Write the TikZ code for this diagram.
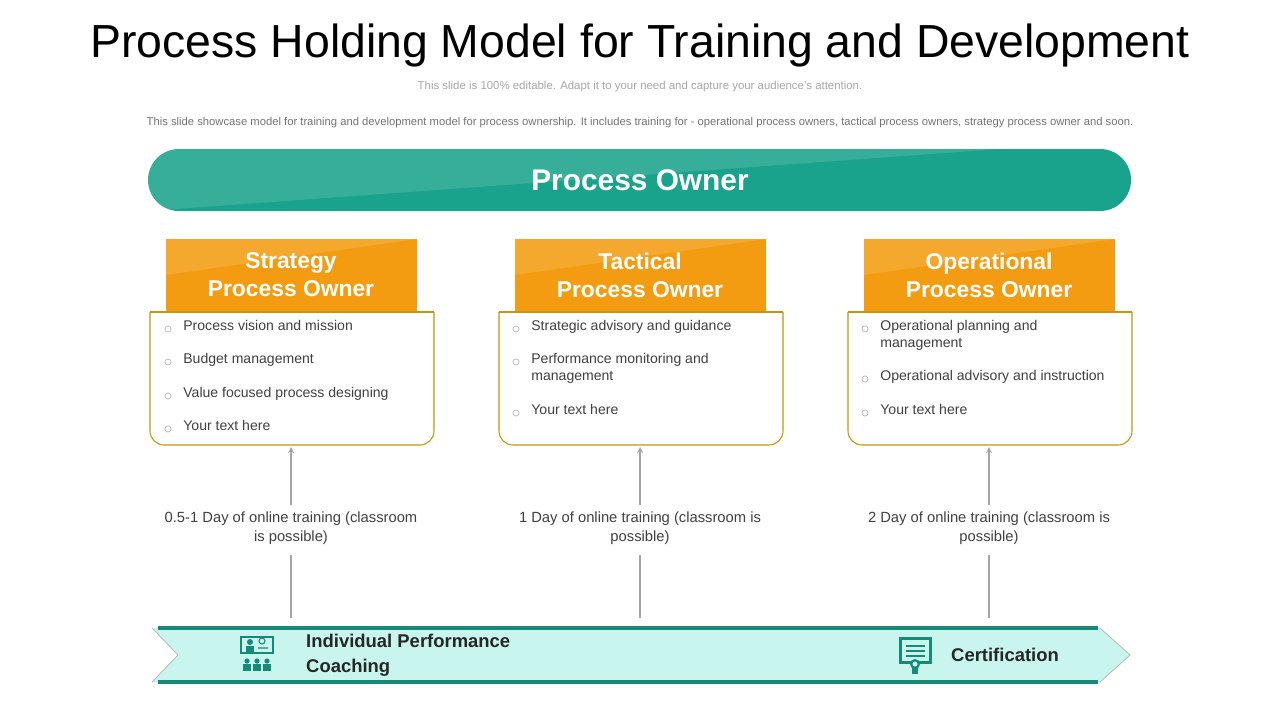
\documentclass[tikz,border=0pt]{standalone}
\usepackage{fontspec}
\setmainfont{Liberation Sans}
\usetikzlibrary{positioning}
\definecolor{teal}{HTML}{1AA38C}
\definecolor{orng}{HTML}{F39C12}
\definecolor{mint}{HTML}{C8F5EE}
\definecolor{txtgray}{HTML}{404040}
\tikzset{
  head/.style={fill=orng, minimum width=251*0.02cm, minimum height=72*0.02cm, text=white, font=\bfseries\fontsize{13}{16}\selectfont, align=center, inner sep=0pt},
  item/.style={anchor=north west, text=txtgray, font=\fontsize{8}{9.5}\selectfont, align=left, inner sep=0pt},
  bul/.style={draw=gray!70, circle, inner sep=0pt, minimum size=3.5pt, line width=0.3pt},
  train/.style={text=txtgray, font=\fontsize{8.4}{10.5}\selectfont, align=center},
  link/.style={draw=gray!70, line width=0.6pt},
}
\begin{document}
\begin{tikzpicture}[x=0.02cm, y=-0.02cm]
\useasboundingbox (0,0) rectangle (1280,720);
% titles
\node (title) at (640,46) {\fontsize{26.4}{30}\selectfont Process Holding Model for Training and Development};
\node (sub) at (640,87) [text=gray!70] {\fontsize{6.5}{8}\selectfont This slide is 100\% editable. Adapt it to your need and capture your audience's attention.};
\node (desc) at (640,123) [text=gray!90!black] {\fontsize{6.4}{7}\selectfont This slide showcase model for training and development model for process ownership. It includes training for - operational process owners, tactical process owners, strategy process owner and  soon.};
% top pill
\fill[teal, rounded corners=31*0.02cm] (148,149) rectangle (1131,211);
\begin{scope}
  \clip[rounded corners=31*0.02cm] (148,149) rectangle (1131,211);
  \fill[white,opacity=0.13] (148,149) -- (148,211) -- (1000,149) -- cycle;
\end{scope}
\node (owner) at (640,180) [text=white, font=\bfseries\fontsize{17}{20}\selectfont] {Process Owner};
% three columns
\foreach \cx/\name/\hd in {291/s/{Strategy\\Process Owner}, 640/t/{Tactical\\Process Owner}, 989/o/{Operational\\Process Owner}}{
  \draw[orng!70!yellow!80!black, line width=0.6pt, rounded corners=14*0.02cm] (\cx-141,312) -- (\cx-141,445) -- (\cx+143,445) -- (\cx+143,312);
  \draw[orng!70!yellow!80!black, line width=0.6pt] (\cx-141,312) -- (\cx+143,312);
  \node[head] (\name h) at (\cx,275) {\hd};
  \fill[white,opacity=0.12] (\cx-125,311) -- (\cx-125,275) -- (\cx+126,239) -- (\cx-125,239) -- cycle;
  \coordinate (\name b) at (\cx,447);
  \draw[link,->,>=stealth] (\cx,505) -- (\name b);
  \draw[link] (\cx,555) -- (\cx,618);
}
\node (str) at (291,528) [train] {0.5-1 Day of online training (classroom\\is possible)};
\node (tat) at (640,528) [train] {1 Day of online training (classroom is\\possible)};
\node (opt) at (989,528) [train] {2 Day of online training (classroom is\\possible)};
% bullets
\foreach \x/\y/\t in {
  183/320/{Process vision and mission}, 183/353/{Budget management}, 183/387/{Value focused process designing}, 183/420/{Your text here},
  531/320/{Strategic advisory and guidance}, 531/353/{Performance monitoring and\\management}, 531/404/{Your text here},
  880/320/{Operational planning and\\management}, 880/370/{Operational advisory and instruction}, 880/404/{Your text here}}{
  \node[bul] at (\x-15,\y+9) {};
  \node[item] at (\x,\y) {\t};
}
% bottom banner
\fill[mint] (152,628) -- (1100,628) -- (1130,655) -- (1100,682) -- (152,682) -- (178,655) -- cycle;
\draw[gray!60, line width=0.4pt] (152,628) -- (178,655) -- (152,682);
\draw[gray!60, line width=0.4pt] (1100,628) -- (1130,655) -- (1100,682);
\draw[teal!85!black, line width=2.2pt] (158,628) -- (1098,628);
\draw[teal!85!black, line width=2.2pt] (158,682) -- (1098,682);
\node (coach) at (300,655) [anchor=west, align=left, font=\bfseries\fontsize{10.5}{14}\selectfont, text=black!85] {Individual Performance\\Coaching};
\node (cert) at (945,655) [anchor=west, font=\bfseries\fontsize{10.5}{13}\selectfont, text=black!85] {Certification};
% icons
\begin{scope}[teal!85!black]
  \draw[line width=0.8pt] (241,637) rectangle (273,653);
  \fill (250,642) circle (3);
  \fill (246,646) rectangle (254,654);
  \draw[line width=0.6pt] (262,641) circle (3) (258,648) -- (268,648);
  \foreach \k in {247,257,267}{\fill (\k,661) circle (2.6); \fill (\k-4,664) rectangle (\k+4,671);}
  \fill (899,637) rectangle (932,664);
  \fill[mint] (902,640) rectangle (929,661);
  \foreach \k in {645,650,655}{\fill (906,\k) rectangle (925,\k+2);}
  \fill (915,664) circle (5);
  \fill[mint] (915,664) circle (2.5);
  \fill (912,668) rectangle (918,674);
\end{scope}
\end{tikzpicture}
\end{document}
